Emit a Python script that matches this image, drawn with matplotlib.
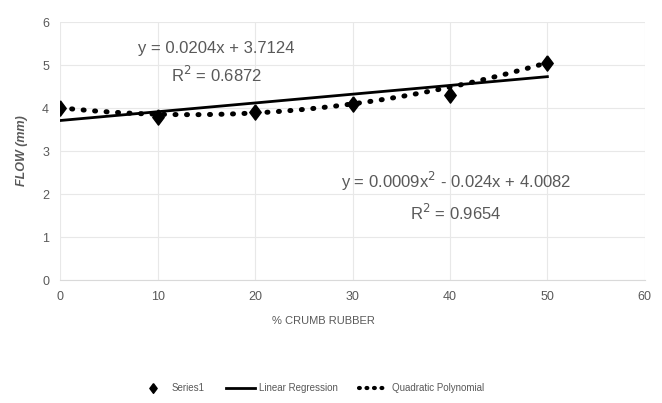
import numpy as np
import matplotlib
matplotlib.use("Agg")
import matplotlib.pyplot as plt
from matplotlib.lines import Line2D

plt.rcParams['font.family'] = ['Liberation Sans', 'DejaVu Sans']

crumb_rubber = [0, 10, 20, 30, 40, 50]
flow_mm = [4.0, 3.8, 3.9, 4.1, 4.3, 5.05]

lin_coef = [0.0204, 3.7124]
quad_coef = [0.0009, -0.024, 4.0082]
lin_label = "y = 0.0204x + 3.7124\nR$^2$ = 0.6872"
quad_label = "y = 0.0009x$^2$ - 0.024x + 4.0082\nR$^2$ = 0.9654"

x_ticks = [0, 10, 20, 30, 40, 50, 60]
y_ticks = [0, 1, 2, 3, 4, 5, 6]

gray = "#595959"
dots = (0, (0.2, 2.1))
diamond = [(0, 1), (0.75, 0), (0, -1), (-0.75, 0), (0, 1)]

fig = plt.figure(figsize=(6.62, 4.03), dpi=100)
ax = fig.add_axes([0.091, 0.305, 0.883, 0.64])

xs = np.linspace(min(crumb_rubber), max(crumb_rubber), 200)
ax.plot(xs, np.polyval(lin_coef, xs), color="black", lw=2.0, zorder=3)
ax.plot(xs, np.polyval(quad_coef, xs), color="black", lw=3.6,
        linestyle=dots, dash_capstyle="round", zorder=3)
ax.plot(crumb_rubber, flow_mm, linestyle="none", marker=diamond, ms=11,
        color="black", zorder=4)

ax.set_xlim(0, 60)
ax.set_ylim(0, 6)
ax.set_xticks(x_ticks)
ax.set_yticks(y_ticks)
ax.grid(True, color="#e8e8e8", lw=0.8)
ax.set_axisbelow(True)
for side in ["top", "right", "left"]:
    ax.spines[side].set_visible(False)
ax.spines["bottom"].set_color("#d9d9d9")
ax.tick_params(length=0, colors=gray, labelsize=9, pad=8)

ax.set_ylabel("FLOW (mm)", color=gray, fontsize=9, fontstyle="italic",
              fontweight="bold", labelpad=10)
ax.set_xlabel("% CRUMB RUBBER", color=gray, fontsize=8, labelpad=12)
ax.xaxis.set_label_coords(0.45, -0.14)

ax.text(16.0, 5.05, lin_label, ha="center", va="center", fontsize=12,
        color=gray, linespacing=1.55)
ax.text(40.6, 1.95, quad_label, ha="center", va="center", fontsize=12,
        color=gray, linespacing=1.55)

handles = [
    Line2D([], [], linestyle="none", marker=diamond, ms=7, color="black"),
    Line2D([], [], color="black", lw=2.0),
    Line2D([], [], color="black", lw=3.0, linestyle=(0, (0.2, 1.6)),
           dash_capstyle="round"),
]
fig.legend(handles, ["Series1", "Linear Regression", "Quadratic Polynomial"],
           loc="center", bbox_to_anchor=(0.47, 0.037), ncol=3, frameon=False,
           fontsize=7, labelcolor=gray, handlelength=3.0, handletextpad=0.4,
           columnspacing=2.2)

fig.savefig("out.png", dpi=100, facecolor="white")
